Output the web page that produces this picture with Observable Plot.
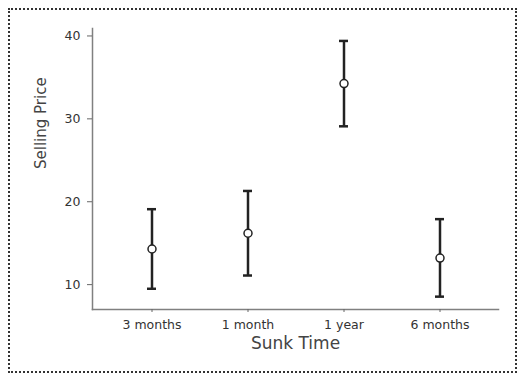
<!DOCTYPE html>
<html><head><meta charset="utf-8">
<script src="https://cdn.jsdelivr.net/npm/d3@7"></script>
<script src="https://cdn.jsdelivr.net/npm/@observablehq/plot@0.6"></script>
<style>
html,body{margin:0;padding:0;background:#fff;}
#wrap{position:relative;width:518px;height:374px;overflow:hidden;}
#wrap svg{position:absolute;left:0;top:0;}
#border{position:absolute;left:8px;top:8px;width:509px;height:365px;box-sizing:border-box;border:2px dotted #333;}
</style></head><body>
<div id="wrap"><div id="border"></div></div>
<script>
const categories = ["3 months", "1 month", "1 year", "6 months"];
const means = [14.3, 16.2, 34.25, 13.2];
const upper = [19.1, 21.3, 39.4, 17.9];
const lower = [9.5, 11.1, 29.1, 8.55];
const yTicks = [10, 20, 30, 40];
const xTitle = "Sunk Time";
const yTitle = "Selling Price";

const data = categories.map((c, i) => ({c, m: means[i], hi: upper[i], lo: lower[i]}));

const chart = Plot.plot({
  width: 518, height: 374,
  marginLeft: 92, marginRight: 20, marginTop: 28, marginBottom: 65,
  style: {fontFamily: "'DejaVu Sans', sans-serif", fontSize: "12.5px", color: "#333", background: "transparent"},
  x: {type: "band", domain: categories, paddingInner: 0.907, paddingOuter: 0.5535},
  y: {domain: [7, 40.9]},
  marks: [
    Plot.frame({anchor: "left", stroke: "#808080", strokeWidth: 1.5}),
    Plot.frame({anchor: "bottom", stroke: "#808080", strokeWidth: 1.5}),
    Plot.axisX({tickSize: 3, tickPadding: 8, label: null, stroke: "#666"}),
    Plot.axisY({ticks: yTicks, tickSize: 5, tickPadding: 7, label: null, stroke: "#666"}),
    Plot.text([xTitle], {frameAnchor: "bottom", dy: 39, fontSize: 17, fill: "#444"}),
    Plot.text([yTitle], {frameAnchor: "left", dx: -51, rotate: -90, fontSize: 15, fill: "#444"}),
    Plot.ruleX(data, {x: "c", y1: "lo", y2: "hi", stroke: "#222", strokeWidth: 2.5}),
    Plot.tickY(data, {x: "c", y: "hi", stroke: "#222", strokeWidth: 2.5}),
    Plot.tickY(data, {x: "c", y: "lo", stroke: "#222", strokeWidth: 2.5}),
    Plot.dot(data, {x: "c", y: "m", r: 4, fill: "white", stroke: "#222", strokeWidth: 1.5})
  ]
});
document.getElementById("wrap").appendChild(chart);
</script>
</body></html>
